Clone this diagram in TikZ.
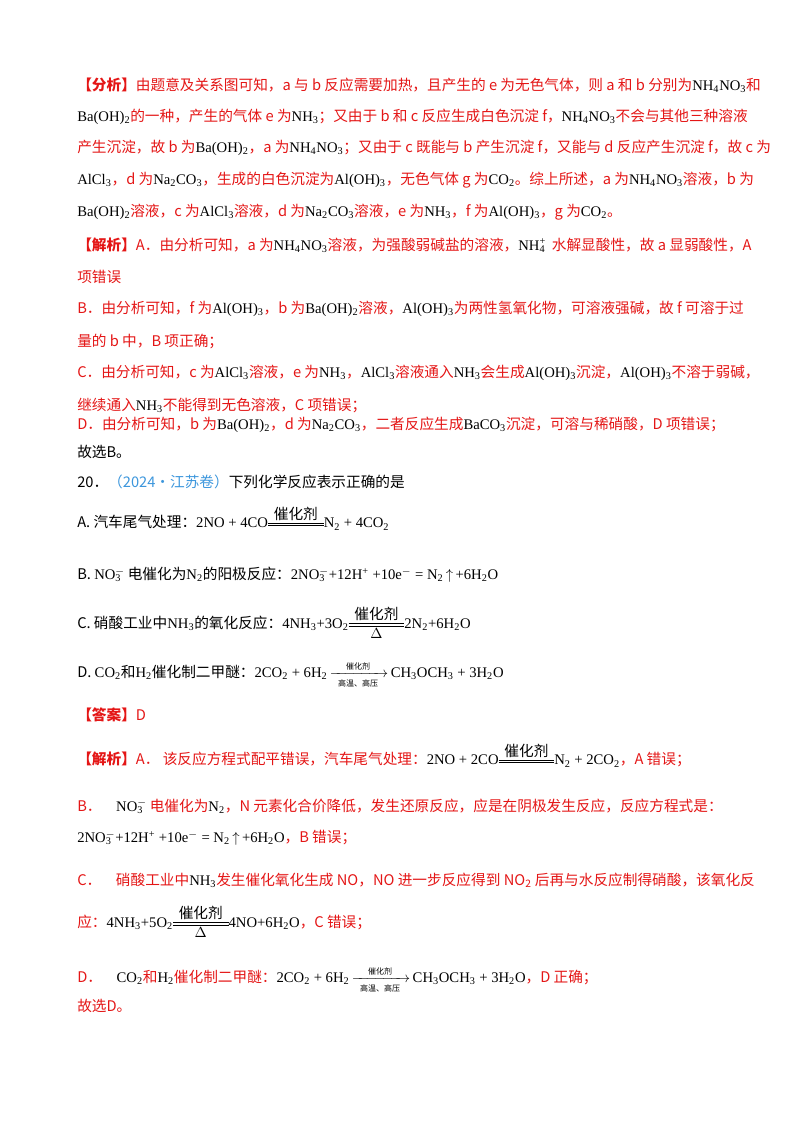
\documentclass[tikz,border=0pt]{standalone}
\usepackage{amsmath}
\usepackage{fontspec}
\setmainfont{Noto Sans CJK SC}
\newfontfamily\fm{Liberation Serif}
\definecolor{myred}{RGB}{228,22,22}
\definecolor{myblue}{RGB}{60,150,220}
\newcommand\f[1]{{\color{black}\fm #1}}
\newcommand\s[1]{\textsubscript{#1}}
\newcommand\sus[2]{\rlap{\textsuperscript{#1}}\textsubscript{#2}}
\newcommand\dbl[3]{$\mathrel{\mathop{\vcenter{\hbox{\vbox{\hrule width #3 height .45pt\vskip 1.6pt\hrule width #3 height .45pt}}}}\limits^{\text{\normalfont\fontsize{11}{11}\selectfont #1}}_{\text{\fontsize{11}{11}\selectfont #2}}}$}
\newcommand\arr{$\xrightarrow[\text{\normalfont\fontsize{6}{6}\selectfont\hspace{0.6em}高温、高压\hspace{0.6em}}]{\text{\normalfont\fontsize{6}{6}\selectfont 催化剂}}$}
\tikzset{ln/.style={anchor=west,inner sep=0pt,font=\fontsize{11}{13}\selectfont},
 rl/.style={ln,text=myred}}
\begin{document}
\begin{tikzpicture}[x=0.75pt,y=-0.75pt]
\useasboundingbox (0,0) rectangle (800,1132);
\node[rl] (l1) at (77,85) {\textbf{【分析】}由题意及关系图可知，a 与 b 反应需要加热，且产生的 e 为无色气体，则 a 和 b 分别为\f{NH\s4NO\s3}和};
\node[rl] (l2) at (77,117) {\f{Ba(OH)\s2}的一种，产生的气体 e 为\f{NH\s3}；又由于 b 和 c 反应生成白色沉淀 f，\f{NH\s4NO\s3}不会与其他三种溶液};
\node[rl] (l3) at (77,148) {产生沉淀，故 b 为\f{Ba(OH)\s2}，a 为\f{NH\s4NO\s3}；又由于 c 既能与 b 产生沉淀 f，又能与 d 反应产生沉淀 f，故 c 为};
\node[rl] (l4) at (77,180) {\f{AlCl\s3}，d 为\f{Na\s2CO\s3}，生成的白色沉淀为\f{Al(OH)\s3}，无色气体 g 为\f{CO\s2}。综上所述，a 为\f{NH\s4NO\s3}溶液，b 为};
\node[rl] (l5) at (77,212) {\f{Ba(OH)\s2}溶液，c 为\f{AlCl\s3}溶液，d 为\f{Na\s2CO\s3}溶液，e 为\f{NH\s3}，f 为\f{Al(OH)\s3}，g 为\f{CO\s2}。};
\node[rl] (l6) at (77,245) {\textbf{【解析】}A．由分析可知，a 为\f{NH\s4NO\s3}溶液，为强酸弱碱盐的溶液，\f{NH\sus{+}{4}}\ \ 水解显酸性，故 a 显弱酸性，A};
\node[rl] (l7) at (77,277) {项错误};
\node[rl] (l8) at (77,309) {B．由分析可知，f 为\f{Al(OH)\s3}，b 为\f{Ba(OH)\s2}溶液，\f{Al(OH)\s3}为两性氢氧化物，可溶液强碱，故 f 可溶于过};
\node[rl] (l9) at (77,341) {量的 b 中，B 项正确；};
\node[rl] (l10) at (77,373) {C．由分析可知，c 为\f{AlCl\s3}溶液，e 为\f{NH\s3}，\f{AlCl\s3}溶液通入\f{NH\s3}会生成\f{Al(OH)\s3}沉淀，\f{Al(OH)\s3}不溶于弱碱，};
\node[rl] (l11) at (77,405) {继续通入\f{NH\s3}不能得到无色溶液，C 项错误；};
\node[rl] (l12) at (77,425) {D．由分析可知，b 为\f{Ba(OH)\s2}，d 为\f{Na\s2CO\s3}，二者反应生成\f{BaCO\s3}沉淀，可溶与稀硝酸，D 项错误；};
\node[ln] (l13) at (77,452) {故选B。};
\node[ln] (q) at (77,482) {20．{\color{myblue}（2024·江苏卷）}下列化学反应表示正确的是};
\node[ln] (qa) at (77,521) {A. 汽车尾气处理：{\fm 2NO + 4CO\dbl{催化剂}{}{3.8em}N\s2 + 4CO\s2}};
\node[ln] (qb) at (77,575) {B. {\fm NO\sus{$-$}{3}}\ \ 电催化为{\fm N\s2}的阳极反应：{\fm 2NO\sus{$-$}{3}\ +12H\textsuperscript{+} +10e\textsuperscript{$-$} = N\s2\,$\uparrow$\,+6H\s2O}};
\node[ln] (qc) at (77,623) {C. 硝酸工业中{\fm NH\s3}的氧化反应：{\fm 4NH\s3+3O\s2\dbl{催化剂}{$\Delta$}{3.8em}2N\s2+6H\s2O}};
\node[ln] (qd) at (77,675) {D. {\fm CO\s2}和{\fm H\s2}催化制二甲醚：{\fm 2CO\s2 + 6H\s2\,\arr\,CH\s3OCH\s3 + 3H\s2O}};
\node[rl] (ans) at (77,715) {\textbf{【答案】}D};
\node[rl] (e1) at (77,758) {\textbf{【解析】}A．\ 该反应方程式配平错误，汽车尾气处理：\f{2NO + 2CO\dbl{催化剂}{}{3.8em}N\s2 + 2CO\s2}，A 错误；};
\node[rl] (e2) at (77,806) {B．\quad\f{NO\sus{$-$}{3}}\ \ 电催化为\f{N\s2}，N 元素化合价降低，发生还原反应，应是在阴极发生反应，反应方程式是：};
\node[rl] (e3) at (77,838) {\f{2NO\sus{$-$}{3}\ +12H\textsuperscript{+} +10e\textsuperscript{$-$} = N\s2\,$\uparrow$\,+6H\s2O}，B 错误；};
\node[rl] (e4) at (77,880) {C．\quad 硝酸工业中\f{NH\s3}发生催化氧化生成 NO，NO 进一步反应得到 NO\s2 后再与水反应制得硝酸，该氧化反};
\node[rl] (e5) at (77,922) {应：\f{4NH\s3+5O\s2\dbl{催化剂}{$\Delta$}{3.8em}4NO+6H\s2O}，C 错误；};
\node[rl] (e6) at (77,980) {D．\quad\f{CO\s2}和\f{H\s2}催化制二甲醚：\f{2CO\s2 + 6H\s2\,\arr\,CH\s3OCH\s3 + 3H\s2O}，D 正确；};
\node[rl] (e7) at (77,1006) {故选D。};
\end{tikzpicture}
\end{document}
